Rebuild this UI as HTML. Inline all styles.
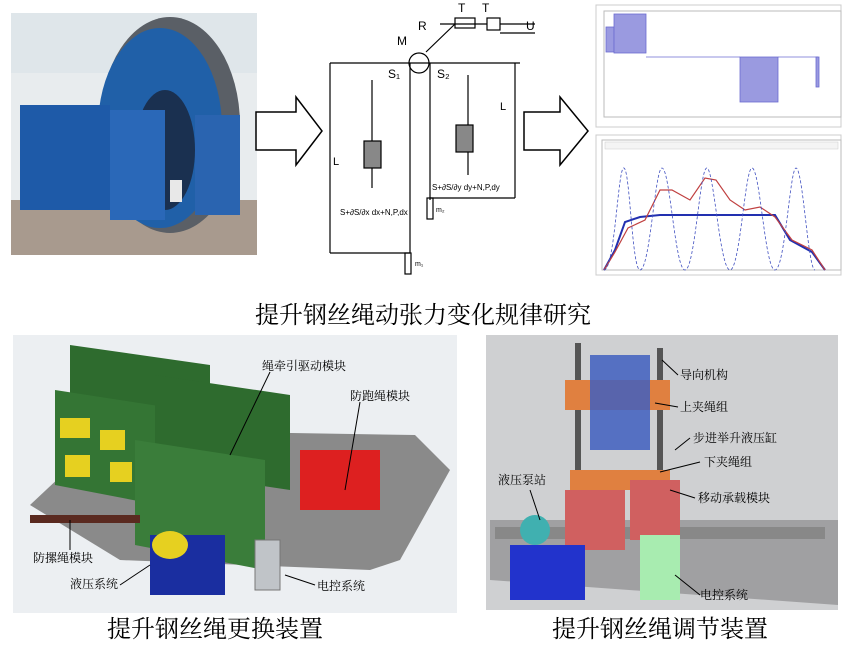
<!DOCTYPE html>
<html><head><meta charset="utf-8"><style>
html,body{margin:0;padding:0;background:#fff;}
body{width:846px;height:645px;overflow:hidden;position:relative;font-family:"Liberation Serif","Noto Serif CJK SC",serif;}
svg{position:absolute;left:0;top:0;}
</style></head><body>
<svg width="846" height="645" viewBox="0 0 846 645" xmlns="http://www.w3.org/2000/svg">
<rect x="11" y="13" width="246" height="242" fill="#e8ecee"/>
<rect x="11" y="13" width="246" height="60" fill="#dfe6ea"/>
<rect x="11" y="200" width="246" height="55" fill="#a89a8e"/>
<ellipse cx="170" cy="125" rx="70" ry="108" fill="#5a5f66"/>
<ellipse cx="160" cy="128" rx="62" ry="100" fill="#2060a8"/>
<ellipse cx="165" cy="150" rx="30" ry="60" fill="#1a3050"/>
<rect x="20" y="105" width="90" height="105" fill="#1e5aa8"/>
<rect x="110" y="110" width="55" height="110" fill="#2a68b8"/>
<rect x="195" y="115" width="45" height="100" fill="#2a64b0"/>
<rect x="170" y="180" width="12" height="22" fill="#e8e8e8"/>
<polygon points="256,112 296,112 296,97 322,131 296,165 296,150 256,150" fill="#fff" stroke="#000" stroke-width="1.5"/>
<polygon points="524,112 560,112 560,97 588,131 560,165 560,150 524,150" fill="#fff" stroke="#000" stroke-width="1.5"/>
<g stroke="#000" fill="none" stroke-width="1.2">
<line x1="330" y1="63" x2="520" y2="63"/>
<line x1="330" y1="63" x2="330" y2="253"/>
<line x1="330" y1="253" x2="410" y2="253"/>
<line x1="410" y1="63" x2="410" y2="253"/>
<line x1="430" y1="63" x2="430" y2="200"/>
<line x1="430" y1="198" x2="515" y2="198"/>
<line x1="515" y1="63" x2="515" y2="198"/>
<circle cx="419" cy="63" r="10"/>
<rect x="364" y="141" width="17" height="27" fill="#888"/>
<rect x="456" y="125" width="17" height="27" fill="#888"/>
<rect x="405" y="253" width="6" height="21"/>
<rect x="427" y="198" width="6" height="21"/>
<line x1="372" y1="80" x2="372" y2="141"/><line x1="372" y1="168" x2="372" y2="188"/>
<line x1="468" y1="75" x2="468" y2="125"/><line x1="468" y1="152" x2="468" y2="175"/>
<line x1="426" y1="52" x2="455" y2="24"/>
<rect x="455" y="18" width="20" height="10"/><rect x="487" y="18" width="13" height="12"/>
<line x1="440" y1="24" x2="487" y2="24"/><line x1="500" y1="24" x2="535" y2="24"/>
<line x1="500" y1="33" x2="535" y2="33"/>
</g>
<g font-family="Liberation Sans,sans-serif" font-size="12" fill="#000">
<text x="388" y="78">S₁</text><text x="437" y="78">S₂</text>
<text x="397" y="45">M</text><text x="418" y="30">R</text>
<text x="458" y="12">T</text><text x="482" y="12">T</text>
<text x="526" y="30">U</text><text x="333" y="165" font-size="11">L</text><text x="500" y="110" font-size="11">L</text>
<text x="340" y="215" font-size="8">S+∂S/∂x dx+N,P,dx</text>
<text x="432" y="190" font-size="8">S+∂S/∂y dy+N,P,dy</text>
<text x="415" y="266" font-size="7">m₁</text><text x="436" y="212" font-size="7">m₂</text>
</g>
<rect x="596" y="5" width="245" height="122" fill="#fff" stroke="#ccc"/>
<rect x="604" y="11" width="237" height="106" fill="none" stroke="#bbb"/>
<g stroke="#6b6bd0" stroke-width="0.8">
<rect x="606" y="27" width="8" height="25" fill="#9a9ae0"/>
<rect x="614" y="14" width="32" height="39" fill="#9a9ae0"/>
<line x1="646" y1="57" x2="740" y2="57"/>
<rect x="740" y="57" width="38" height="45" fill="#9a9ae0"/>
<line x1="778" y1="57" x2="818" y2="57"/>
<rect x="816" y="57" width="3" height="30" fill="#9a9ae0"/>
</g>
<rect x="596" y="135" width="245" height="140" fill="#fff" stroke="#ccc"/>
<rect x="602" y="140" width="239" height="130" fill="none" stroke="#bbb"/>
<rect x="605" y="142" width="233" height="7" fill="#f4f4f4" stroke="#ccc" stroke-width="0.5"/>
<polyline points="604,270 615,250 625,222 640,217 660,215 680,215 700,215 720,215 740,215 760,215 775,215 790,240 812,252 825,270" fill="none" stroke="#2230b0" stroke-width="2"/>
<polyline points="604,270 615,252 628,228 645,220 660,190 672,190 690,200 705,178 716,180 730,200 745,210 760,207 775,217 792,240 812,250 825,270" fill="none" stroke="#c04040" stroke-width="1.2"/>
<path d="M604,270 C615,270 618,165 624,168 C630,170 632,270 640,270 C650,270 655,168 662,168 C670,168 675,270 685,270 C695,270 700,166 707,168 C714,170 720,270 730,270 C740,270 745,168 752,168 C760,168 765,270 775,270 C785,270 790,168 796,168 C803,168 808,270 815,270" fill="none" stroke="#4050c0" stroke-width="0.8" stroke-dasharray="3,2"/>
<text x="423" y="323" text-anchor="middle" font-size="24" fill="#000">提升钢丝绳动张力变化规律研究</text>
<rect x="13" y="335" width="444" height="278" fill="#eceff2"/>
<polygon points="30,505 110,430 415,435 450,470 400,560 370,570 120,560" fill="#8a8a8a"/>
<polygon points="70,345 210,365 210,470 70,445" fill="#2e6b2e"/>
<polygon points="55,390 185,410 185,510 55,485" fill="#347534"/>
<polygon points="155,375 290,395 290,490 155,470" fill="#2e6b2e"/>
<polygon points="135,440 265,460 265,570 135,545" fill="#3a7d3a"/>
<rect x="60" y="418" width="30" height="20" fill="#e6d020"/>
<rect x="100" y="430" width="25" height="20" fill="#e6d020"/>
<rect x="65" y="455" width="25" height="22" fill="#e6d020"/>
<rect x="110" y="462" width="22" height="20" fill="#e6d020"/>
<rect x="300" y="450" width="80" height="60" fill="#dd2020"/>
<rect x="150" y="535" width="75" height="60" fill="#1a2ea0"/>
<ellipse cx="170" cy="545" rx="18" ry="14" fill="#e6d020"/>
<rect x="255" y="540" width="25" height="50" fill="#c0c4c8" stroke="#777"/>
<rect x="30" y="515" width="110" height="8" fill="#5a2a20"/>
<g font-size="12" fill="#000">
<text x="262" y="370">绳牵引驱动模块</text><text x="350" y="400">防跑绳模块</text>
<text x="33" y="562">防摞绳模块</text><text x="70" y="588">液压系统</text><text x="317" y="590">电控系统</text>
</g>
<g stroke="#000" stroke-width="1"><line x1="270" y1="372" x2="230" y2="455"/><line x1="360" y1="402" x2="345" y2="490"/><line x1="70" y1="550" x2="70" y2="520"/><line x1="120" y1="585" x2="150" y2="565"/><line x1="315" y1="585" x2="285" y2="575"/></g>
<rect x="486" y="335" width="352" height="275" fill="#cfd0d2"/>
<polygon points="490,520 838,520 838,605 490,580" fill="#a0a0a2"/>
<rect x="495" y="527" width="330" height="12" fill="#888"/>
<rect x="575" y="343" width="6" height="165" fill="#555"/>
<rect x="657" y="348" width="6" height="155" fill="#555"/>
<rect x="565" y="380" width="105" height="30" fill="#e08040"/>
<rect x="570" y="470" width="100" height="20" fill="#e08040"/>
<rect x="565" y="490" width="60" height="60" fill="#d06060"/>
<rect x="630" y="480" width="50" height="60" fill="#d06060"/>
<rect x="590" y="355" width="60" height="95" fill="#3f5fc0" opacity="0.85"/>
<rect x="510" y="545" width="75" height="55" fill="#2233cc"/>
<ellipse cx="535" cy="530" rx="15" ry="15" fill="#40b0b0"/>
<rect x="640" y="535" width="40" height="65" fill="#a8ecb0"/>
<g font-size="12" fill="#000">
<text x="680" y="379">导向机构</text><text x="680" y="411">上夹绳组</text><text x="693" y="442">步进举升液压缸</text>
<text x="704" y="466">下夹绳组</text><text x="698" y="502">移动承载模块</text><text x="498" y="484">液压泵站</text><text x="700" y="599">电控系统</text>
</g>
<g stroke="#000" stroke-width="1"><line x1="678" y1="375" x2="662" y2="360"/><line x1="678" y1="407" x2="655" y2="403"/><line x1="690" y1="438" x2="675" y2="450"/><line x1="700" y1="462" x2="660" y2="472"/><line x1="695" y1="498" x2="670" y2="490"/><line x1="530" y1="490" x2="540" y2="520"/><line x1="700" y1="595" x2="675" y2="575"/></g>
<text x="215" y="637" text-anchor="middle" font-size="24" fill="#000">提升钢丝绳更换装置</text>
<text x="660" y="637" text-anchor="middle" font-size="24" fill="#000">提升钢丝绳调节装置</text>
</svg>
</body></html>
